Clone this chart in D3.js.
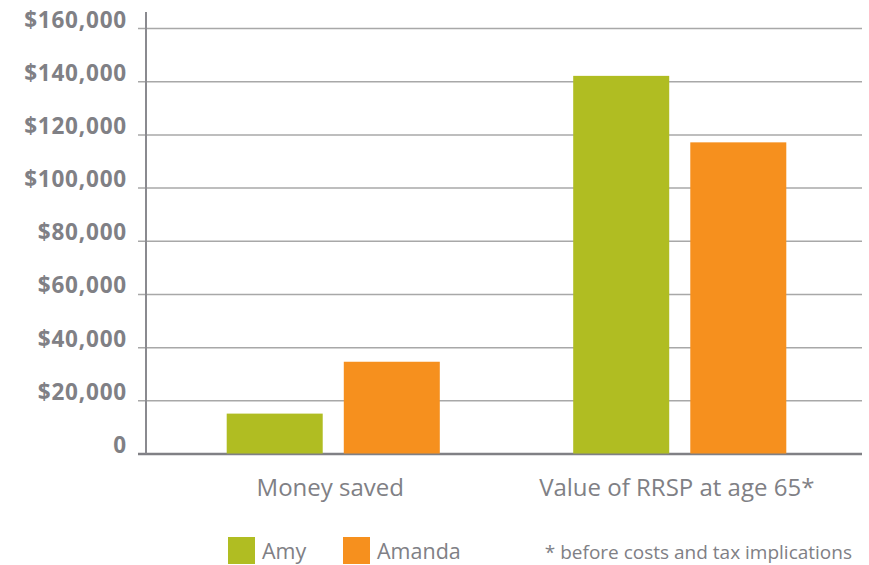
<!DOCTYPE html>
<html>
<head>
<meta charset="utf-8">
<script src="https://cdn.jsdelivr.net/npm/d3@7"></script>
<style>
  body { margin: 0; background: #fff; }
  text { font-family: "Open Sans", sans-serif; fill: #808085; }
</style>
</head>
<body>
<div id="chart"></div>
<script>
// chart data
const categories = ["Money saved", "Value of RRSP at age 65*"];
const series = ["Amy", "Amanda"];
const amy = [15000, 142000];
const amanda = [34500, 117000];
const yTicks = [0, 20000, 40000, 60000, 80000, 100000, 120000, 140000, 160000];
const colors = ["#b0bd22", "#f6901e"];
const footnote = "* before costs and tax implications";

const values = [amy, amanda];
const width = 869, height = 565;

const svg = d3.select('#chart').append('svg')
    .attr('width', width)
    .attr('height', height);

const y = d3.scaleLinear().domain([0, 160000]).range([453.5, 28]);

const x0 = d3.scaleBand()
    .domain(categories)
    .range([160, 853])
    .paddingInner(0.385)
    .paddingOuter(0.1925);

const x1 = d3.scaleBand()
    .domain(series)
    .range([0, x0.bandwidth()])
    .paddingInner(0.18);

// gridlines + tick labels
const yAxis = svg.append('g')
    .attr('transform', 'translate(138,0)')
    .call(d3.axisRight(y).tickValues(yTicks).tickSize(724)
        .tickFormat(d => d === 0 ? '0' : '$' + d3.format(',')(d)));
yAxis.select('.domain').remove();
yAxis.selectAll('.tick line')
    .attr('stroke', (d) => d === 0 ? '#808085' : '#a8a8a8')
    .attr('stroke-width', (d) => d === 0 ? 2.5 : 1.5);
yAxis.selectAll('.tick text')
    .attr('x', -11)
    .attr('y', -1)
    .attr('dy', '0')
    .attr('text-anchor', 'end')
    .style('font-size', '22.5px')
    .style('font-weight', 700)
    .style('letter-spacing', '0.8px')
    .style('fill', '#808085');

// vertical axis line
svg.append('line')
    .attr('x1', 146).attr('x2', 146)
    .attr('y1', 12).attr('y2', y(0))
    .attr('stroke', '#8a8a8f')
    .attr('stroke-width', 2);

// bars
const groups = svg.selectAll('.group')
    .data(categories)
    .enter()
    .append('g')
    .attr('class', 'group')
    .attr('transform', d => `translate(${x0(d)},0)`);

groups.selectAll('rect')
    .data((d, i) => series.map((s, j) => ({ s: s, v: values[j][i], c: colors[j] })))
    .enter()
    .append('rect')
    .attr('x', d => x1(d.s))
    .attr('width', x1.bandwidth())
    .attr('y', d => y(d.v))
    .attr('height', d => y(0) - y(d.v))
    .attr('fill', d => d.c);

// category labels
svg.selectAll('.cat')
    .data(categories)
    .enter()
    .append('text')
    .attr('class', 'cat')
    .attr('x', d => x0(d) + x0.bandwidth() / 2 - 3)
    .attr('y', 496)
    .attr('text-anchor', 'middle')
    .style('font-size', '24px')
    .text(d => d);

// legend
const legendX = [228, 343];
const legend = svg.selectAll('.legend')
    .data(series)
    .enter()
    .append('g')
    .attr('class', 'legend')
    .attr('transform', (d, i) => `translate(${legendX[i]},537)`);
legend.append('rect')
    .attr('width', 27)
    .attr('height', 27)
    .attr('fill', (d, i) => colors[i]);
legend.append('text')
    .attr('x', 34)
    .attr('y', 22)
    .style('font-size', '21.5px')
    .text(d => d);

svg.append('text')
    .attr('x', 852)
    .attr('y', 559)
    .attr('text-anchor', 'end')
    .style('font-size', '19px')
    .text(footnote);
</script>
</body>
</html>
